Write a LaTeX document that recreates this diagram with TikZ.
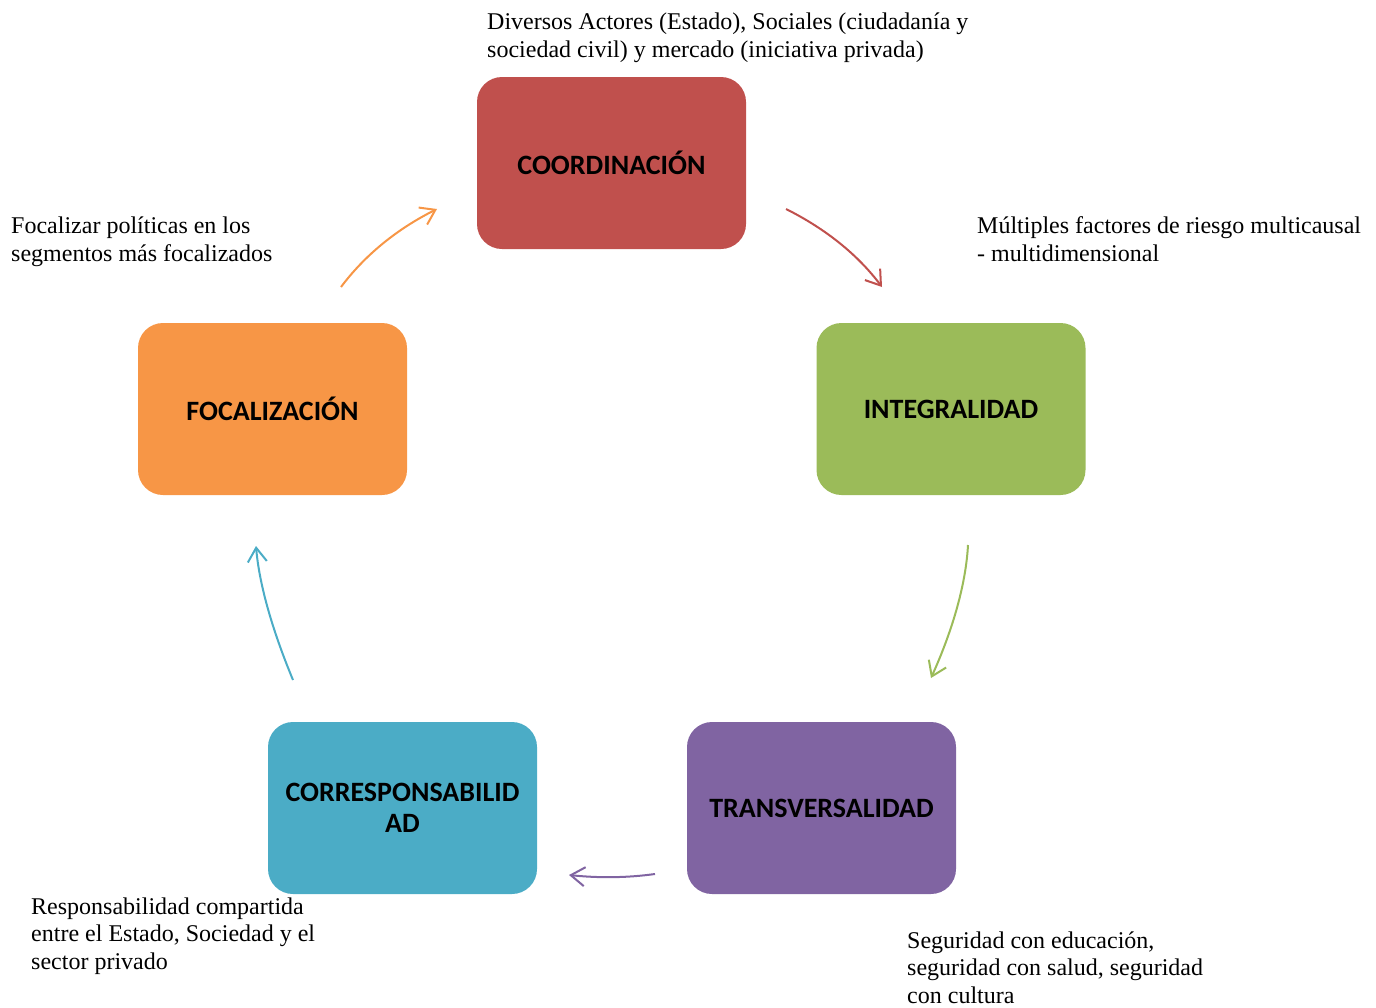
\documentclass[tikz,border=0pt]{standalone}
\usepackage{fontspec}
\setmainfont{Liberation Serif}
\newfontfamily\boxfont{Carlito}
\usetikzlibrary{arrows.meta}
\definecolor{cRed}{HTML}{C0504D}
\definecolor{cGreen}{HTML}{9BBB59}
\definecolor{cOrange}{HTML}{F79646}
\definecolor{cPurple}{HTML}{8064A2}
\definecolor{cBlue}{HTML}{4BACC6}
\tikzset{
  stagebox/.style={rectangle, rounded corners=25pt, minimum width=269pt, minimum height=172pt,
    inner sep=0pt, align=center, font=\boxfont\bfseries\fontsize{28}{31}\selectfont, text=black},
  note/.style={anchor=base west, align=left, inner sep=0pt, font=\fontsize{24}{27.2}\selectfont},
  flow/.style={line width=2pt, -{Straight Barb[length=14pt,width=19pt,line width=2pt]}}
}
\begin{document}
\begin{tikzpicture}[x=1pt,y=-1pt]
\useasboundingbox (0,0) rectangle (1376,1007);
\node[stagebox, fill=cRed] (coord) at (611.5,163) {COORDINACIÓN};
\node[stagebox, fill=cGreen] (integ) at (951,409) {INTEGRALIDAD};
\node[stagebox, fill=cOrange] (focal) at (272.5,409) {FOCALIZACIÓN};
\node[stagebox, fill=cPurple] (trans) at (821.5,808) {TRANSVERSALIDAD};
\node[stagebox, fill=cBlue] (corres) at (402.5,808) {CORRESPONSABILID\\AD};

% anchor base = baseline of the last line
\node[note] (n1) at (487,57) {Diversos Actores (Estado), Sociales (ciudadanía y\\sociedad civil) y mercado (iniciativa privada)};
\node[note] (n2) at (11,261) {Focalizar políticas en los\\segmentos más focalizados};
\node[note] (n3) at (977,261) {Múltiples factores de riesgo multicausal\\- multidimensional};
\node[note] (n4) at (31,969) {Responsabilidad compartida\\entre el Estado, Sociedad y el\\sector privado};
\node[note] (n5) at (907,1003) {Seguridad con educación,\\seguridad con salud, seguridad\\con cultura};

\coordinate (r1) at (786,209); \coordinate (r2) at (882,287);
\coordinate (g1) at (968,545); \coordinate (g2) at (931,678);
\coordinate (p1) at (655,874); \coordinate (p2) at (569,875);
\coordinate (b1) at (293,680); \coordinate (b2) at (256,546);
\coordinate (o1) at (341,287); \coordinate (o2) at (437,209);

\draw[flow, cRed] (r1) .. controls (826,229) and (858,255) .. (r2);
\draw[flow, cGreen] (g1) .. controls (966,582) and (954,627) .. (g2);
\draw[flow, cPurple] (p1) .. controls (626,878) and (598,878) .. (p2);
\draw[flow, cBlue] (b1) .. controls (271,627) and (259,582) .. (b2);
\draw[flow, cOrange] (o1) .. controls (365,255) and (397,229) .. (o2);
\end{tikzpicture}
\end{document}
